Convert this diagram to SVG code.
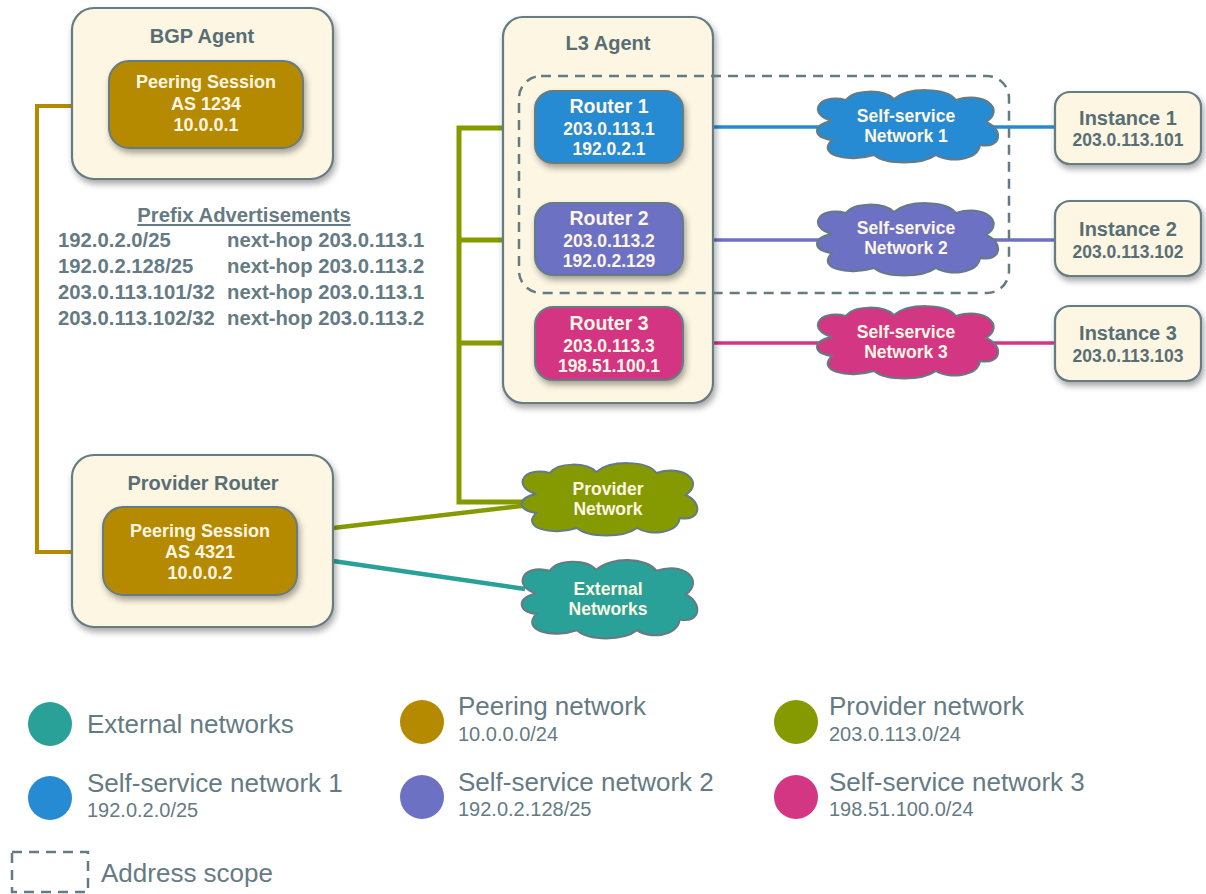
<svg xmlns="http://www.w3.org/2000/svg" xmlns:xlink="http://www.w3.org/1999/xlink" width="1206" height="894" viewBox="0 0 1206 894">
<style>
.box{fill:#fdf6e3;stroke:#657b83;stroke-width:2.2;filter:url(#sh)}
.peer{fill:#b58900;stroke:#657b83;stroke-width:2;filter:url(#sh)}
.r1{fill:#268bd2;stroke:#657b83;stroke-width:2;filter:url(#sh)}
.r2{fill:#6c71c4;stroke:#657b83;stroke-width:2;filter:url(#sh)}
.r3{fill:#d33682;stroke:#657b83;stroke-width:2;filter:url(#sh)}
.cl{stroke:#657b83;stroke-width:2}
text{font-family:"Liberation Sans",Arial,sans-serif}
.t{font-weight:bold;fill:#586e75;text-anchor:middle}
.w{font-weight:bold;fill:#fdf6e3;text-anchor:middle}
.pa{font-weight:bold;fill:#657b83;font-size:20.3px}
.lg{fill:#657b83;font-size:26px}
.ls{fill:#657b83;font-size:20px}
.ln{fill:none}
.scope{fill:none;stroke:#657b83;stroke-width:2.5;stroke-dasharray:10 7}
</style>
<defs>
<filter id="sh" x="-20%" y="-20%" width="140%" height="150%">
<feDropShadow dx="2" dy="4" stdDeviation="3" flood-color="#000" flood-opacity="0.35"/>
</filter>
<path id="cloud" d="M -74,-6 C -98,-12 -90,-34 -60,-27 C -52,-38 -22,-38 -12,-28 C 2,-40 40,-40 50,-27 C 78,-36 100,-18 80,-5 C 98,2 96,22 74,18 C 72,34 42,36 30,28 C 16,38 -20,38 -32,28 C -58,36 -90,28 -74,13 C -94,10 -94,-2 -74,-6 Z"/>
</defs>
<rect width="1206" height="894" fill="#ffffff"/>

<g id="connectors" class="ln">
<path d="M110,106 H37 V552 H103" stroke="#b58900" stroke-width="4"/>
<path d="M535,128 H459 V502 H528 M459,240 H535 M459,343 H535" stroke="#859900" stroke-width="5"/>
<path d="M333,528 L530,505" stroke="#859900" stroke-width="4.5"/>
<path d="M333,561 L525,589" stroke="#2aa198" stroke-width="4.5"/>
<path d="M683,127 H1055" stroke="#268bd2" stroke-width="3.5"/>
<path d="M683,240 H1055" stroke="#6c71c4" stroke-width="3.5"/>
<path d="M683,343 H1055" stroke="#d33682" stroke-width="3.5"/>
</g>

<g id="bgp-agent">
<rect class="box" x="72" y="8" width="261" height="171" rx="22"/>
<text class="t" x="202" y="43" font-size="20">BGP Agent</text>
</g>
<g id="peering-session-1">
<rect class="peer" x="109" y="61" width="194" height="87" rx="20"/>
<text class="w" font-size="18"><tspan x="206" y="88">Peering Session</tspan><tspan x="206" y="110">AS 1234</tspan><tspan x="206" y="131">10.0.0.1</tspan></text>
</g>

<g id="prefix-advertisements">
<text class="pa" x="244" y="222" text-anchor="middle" text-decoration="underline">Prefix Advertisements</text>
<text class="pa"><tspan x="58" y="247">192.0.2.0/25</tspan><tspan x="58" y="273">192.0.2.128/25</tspan><tspan x="58" y="299">203.0.113.101/32</tspan><tspan x="58" y="325">203.0.113.102/32</tspan></text>
<text class="pa"><tspan x="227" y="247">next-hop 203.0.113.1</tspan><tspan x="227" y="273">next-hop 203.0.113.2</tspan><tspan x="227" y="299">next-hop 203.0.113.1</tspan><tspan x="227" y="325">next-hop 203.0.113.2</tspan></text>
</g>

<g id="provider-router">
<rect class="box" x="72" y="455" width="261" height="172" rx="22"/>
<text class="t" x="203" y="490" font-size="20">Provider Router</text>
</g>
<g id="peering-session-2">
<rect class="peer" x="103" y="507" width="194" height="88" rx="20"/>
<text class="w" font-size="18"><tspan x="200" y="537">Peering Session</tspan><tspan x="200" y="558">AS 4321</tspan><tspan x="200" y="579">10.0.0.2</tspan></text>
</g>

<g id="l3-agent">
<rect class="box" x="503" y="17" width="210" height="386" rx="20"/>
<text class="t" x="608" y="50" font-size="20">L3 Agent</text>
</g>

<g id="address-scope-box">
<rect class="scope" x="519" y="76" width="490" height="217" rx="22"/>
</g>

<g id="router-1">
<rect class="r1" x="535" y="91" width="148" height="72" rx="18"/>
<text class="w"><tspan x="609" y="113" font-size="19.5">Router 1</tspan><tspan x="609" y="135" font-size="17.5">203.0.113.1</tspan><tspan x="609" y="155" font-size="17.5">192.0.2.1</tspan></text>
</g>
<g id="router-2">
<rect class="r2" x="535" y="203" width="148" height="72" rx="18"/>
<text class="w"><tspan x="609" y="225" font-size="19.5">Router 2</tspan><tspan x="609" y="247" font-size="17.5">203.0.113.2</tspan><tspan x="609" y="267" font-size="17.5">192.0.2.129</tspan></text>
</g>
<g id="router-3">
<rect class="r3" x="535" y="307" width="148" height="73" rx="18"/>
<text class="w"><tspan x="609" y="330" font-size="19.5">Router 3</tspan><tspan x="609" y="352" font-size="17.5">203.0.113.3</tspan><tspan x="609" y="372" font-size="17.5">198.51.100.1</tspan></text>
</g>

<g id="self-service-network-1">
<use href="#cloud" xlink:href="#cloud" class="cl" fill="#268bd2" transform="translate(906,127)"/>
<text class="w" font-size="17.5"><tspan x="906" y="122">Self-service</tspan><tspan x="906" y="142">Network 1</tspan></text>
</g>
<g id="self-service-network-2">
<use href="#cloud" xlink:href="#cloud" class="cl" fill="#6c71c4" transform="translate(906,240)"/>
<text class="w" font-size="17.5"><tspan x="906" y="234">Self-service</tspan><tspan x="906" y="254">Network 2</tspan></text>
</g>
<g id="self-service-network-3">
<use href="#cloud" xlink:href="#cloud" class="cl" fill="#d33682" transform="translate(906,343)"/>
<text class="w" font-size="17.5"><tspan x="906" y="338">Self-service</tspan><tspan x="906" y="358">Network 3</tspan></text>
</g>

<g id="instance-1">
<rect class="box" x="1055" y="92" width="146" height="72" rx="15"/>
<text class="t"><tspan x="1128" y="125" font-size="20">Instance 1</tspan><tspan x="1128" y="146" font-size="17.5">203.0.113.101</tspan></text>
</g>
<g id="instance-2">
<rect class="box" x="1055" y="201" width="146" height="75" rx="15"/>
<text class="t"><tspan x="1128" y="236" font-size="20">Instance 2</tspan><tspan x="1128" y="258" font-size="17.5">203.0.113.102</tspan></text>
</g>
<g id="instance-3">
<rect class="box" x="1055" y="306" width="146" height="75" rx="15"/>
<text class="t"><tspan x="1128" y="340" font-size="20">Instance 3</tspan><tspan x="1128" y="362" font-size="17.5">203.0.113.103</tspan></text>
</g>

<g id="provider-network">
<use href="#cloud" xlink:href="#cloud" class="cl" fill="#859900" transform="translate(608,500) scale(0.97,1)"/>
<text class="w" font-size="17.5"><tspan x="608" y="495">Provider</tspan><tspan x="608" y="515">Network</tspan></text>
</g>
<g id="external-networks">
<use href="#cloud" xlink:href="#cloud" class="cl" fill="#2aa198" transform="translate(608,600) scale(0.97,1.08)"/>
<text class="w" font-size="17.5"><tspan x="608" y="595">External</tspan><tspan x="608" y="615">Networks</tspan></text>
</g>

<g id="legend">
<circle cx="50" cy="724" r="22" fill="#2aa198"/>
<text class="lg" x="87" y="733">External networks</text>
<circle cx="50" cy="798" r="22" fill="#268bd2"/>
<text class="lg" x="87" y="792">Self-service network 1</text>
<text class="ls" x="87" y="817">192.0.2.0/25</text>
<circle cx="422" cy="722" r="22" fill="#b58900"/>
<text class="lg" x="458" y="715">Peering network</text>
<text class="ls" x="458" y="741">10.0.0.0/24</text>
<circle cx="422" cy="797" r="22" fill="#6c71c4"/>
<text class="lg" x="458" y="791">Self-service network 2</text>
<text class="ls" x="458" y="816">192.0.2.128/25</text>
<circle cx="796" cy="722" r="22" fill="#859900"/>
<text class="lg" x="829" y="715">Provider network</text>
<text class="ls" x="829" y="741">203.0.113.0/24</text>
<circle cx="796" cy="797" r="22" fill="#d33682"/>
<text class="lg" x="829" y="791">Self-service network 3</text>
<text class="ls" x="829" y="816">198.51.100.0/24</text>
<rect class="scope" x="12" y="852" width="76" height="40"/>
<text class="lg" x="101" y="882">Address scope</text>
</g>
</svg>
